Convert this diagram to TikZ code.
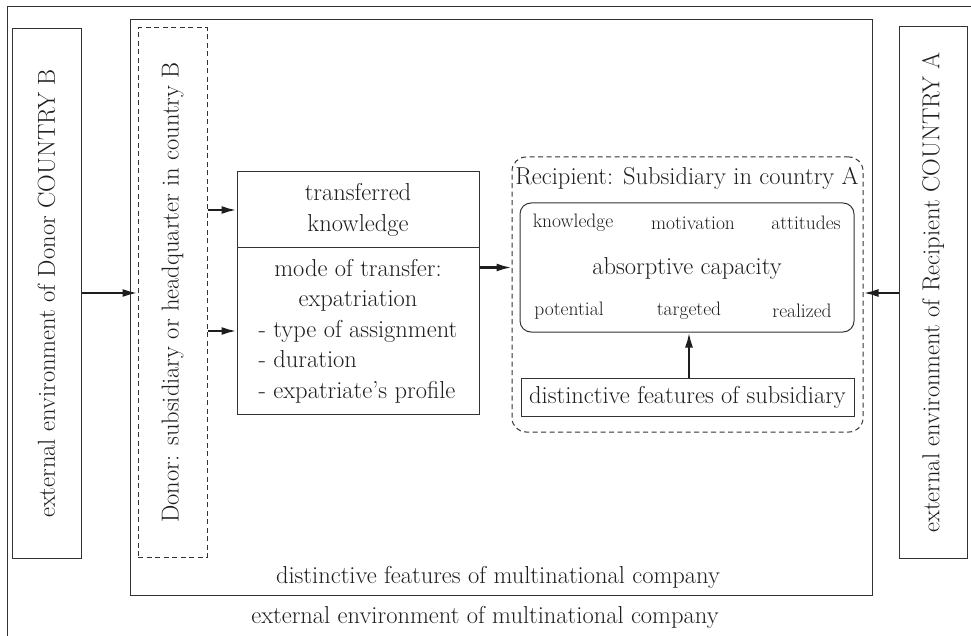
\documentclass[tikz,border=0pt]{standalone}
\usetikzlibrary{arrows.meta}
\definecolor{ink}{HTML}{1E1E1E}
\definecolor{rule}{HTML}{333333}

\begin{document}
\begin{tikzpicture}[x=1pt, y=-1pt,
    every node/.style={text=ink, font=\fontsize{24.5}{30.5}\selectfont, inner sep=0pt},
    box/.style={draw=rule, line width=1pt, rectangle},
    dbox/.style={draw=rule, line width=1pt, dashed, dash pattern=on 5pt off 3.5pt},
    small/.style={font=\fontsize{19.5}{22}\selectfont},
    flow/.style={draw=ink, line width=2.2pt, -{Latex[length=15pt, width=8pt]}}]
\useasboundingbox (0,0) rectangle (971,636);
\clip (0,0) rectangle (971,636);

% outer frame, runs off the page
\draw[rule, line width=1pt] (7,700) -- (7,7) -- (1000,7);
\node (extmnc) at (485,617) {external environment of multinational company};

% multinational company
\node[box, minimum width=742, minimum height=575] (mnc) at (501,307.5) {};
\node (mnclabel) at (498,577) {distinctive features of multinational company};

% country environments
\node[box, minimum width=69, minimum height=529] (envB) at (46.5,293.5)
    {\rotatebox{90}{external environment of Donor COUNTRY B}};
\node[box, minimum width=68, minimum height=531] (envA) at (933,292.5)
    {\rotatebox{90}{external environment of Recipient COUNTRY A}};

% donor
\node[dbox, minimum width=69, minimum height=529] (donor) at (172.5,292.5)
    {\rotatebox{90}{Donor: subsidiary or headquarter in country B}};

% transfer
\node[box, minimum width=242, minimum height=76, align=center] (know) at (358,210)
    {transferred\\knowledge};
\node[box, minimum width=242, minimum height=166] (mode) at (358,331)
    {\begin{tabular}{@{}l@{}}
     \multicolumn{1}{@{}c@{}}{mode of transfer:}\\
     \multicolumn{1}{@{}c@{}}{expatriation}\\
     - type of assignment\\
     - duration\\
     - expatriate's profile
     \end{tabular}};

% recipient
\node[dbox, rounded corners=14pt, minimum width=351, minimum height=275] (recip) at (687.5,294.5) {};
\node (reciplabel) at (687,178) {Recipient: Subsidiary in country A};
\node[box, rounded corners=11pt, minimum width=334, minimum height=129] (absorb) at (687,267.5) {};
\node (abscap) at (687,268) {absorptive capacity};
\node[small] (knowl) at (573,223) {knowledge};
\node[small] (motiv) at (693,223) {motivation};
\node[small] (attit) at (806,223) {attitudes};
\node[small] (poten) at (569,311) {potential};
\node[small] (targ) at (689,311) {targeted};
\node[small] (realz) at (802,311) {realized};
\node[box, minimum width=333, minimum height=38] (subfeat) at (687.5,397) {distinctive features of subsidiary};

% flows
\draw[flow] (envB.east |- 0,293) -- (donor.west |- 0,293);
\draw[flow] (donor.east |- know.west) -- (know.west);
\draw[flow] (donor.east |- mode.west) -- (mode.west);
\draw[flow] (mode.east |- absorb.west) -- (recip.west |- absorb.west);
\draw[flow] (envA.west |- 0,293) -- (recip.east |- 0,293);
\draw[flow] (subfeat.north -| targ) -- (absorb.south -| targ);

\end{tikzpicture}
\end{document}
